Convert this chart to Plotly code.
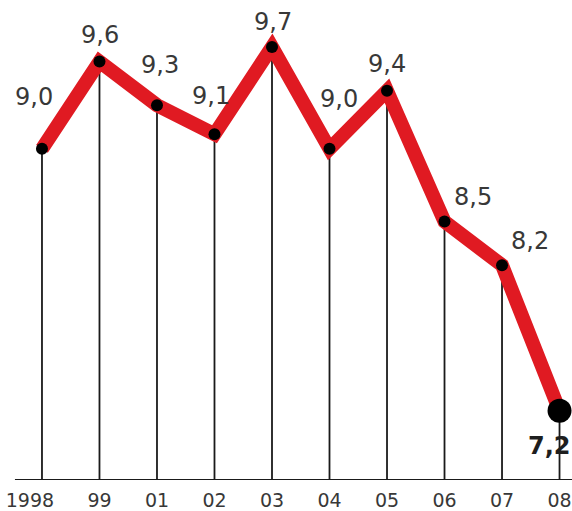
import plotly.graph_objects as go

categories = ["1998", "99", "01", "02", "03", "04", "05", "06", "07", "08"]
values = [9.0, 9.6, 9.3, 9.1, 9.7, 9.0, 9.4, 8.5, 8.2, 7.2]

# label offsets in pixels (style only)
label_dx = [-8, 1, 3, -3, 1, 9, 0, 28, 28, -10]
label_dy = [52, 27, 40, 38, 25, 50, 27, 25, 24, -35]

BASE = 6.724
xs = list(range(len(categories)))
# first tick label is pulled inward in the original
tick_pad = {0: "\u2007\u2007"}
ticktext = [c + tick_pad.get(i, "") for i, c in enumerate(categories)]

fig = go.Figure()

# vertical drop lines to baseline
fig.add_trace(go.Scatter(
    x=xs, y=values, mode="markers",
    marker=dict(size=1, color="rgba(0,0,0,0)"),
    error_y=dict(type="data", symmetric=False, array=[0] * len(values),
                 arrayminus=[v - BASE for v in values],
                 color="#1a1a1a", thickness=1.8, width=0),
    hoverinfo="skip", showlegend=False))

# thick red line
fig.add_trace(go.Scatter(
    x=xs, y=values, mode="lines",
    line=dict(color="#e01a22", width=14),
    showlegend=False))

# markers
sizes = [12] * (len(values) - 1) + [24]
fig.add_trace(go.Scatter(
    x=xs, y=values, mode="markers", cliponaxis=False,
    marker=dict(color="#000000", size=sizes, opacity=1,
                line=dict(width=0)),
    showlegend=False))

# baseline
fig.add_shape(type="line", x0=-0.47, x1=9.3, y0=BASE, y1=BASE,
              line=dict(color="#1a1a1a", width=2))

for i, (x, v) in enumerate(zip(xs, values)):
    last = i == len(values) - 1
    txt = f"{v:.1f}".replace(".", ",")
    fig.add_annotation(
        x=x, y=v, text=f"<b>{txt}</b>" if last else txt,
        showarrow=False, xshift=label_dx[i], yshift=label_dy[i],
        font=dict(family="DejaVu Sans", size=24,
                  color="#1e1e1e" if last else "#383838"),
        xanchor="center", yanchor="middle")

fig.update_layout(
    width=572, height=511,
    margin=dict(l=0, r=0, t=0, b=31, autoexpand=False),
    paper_bgcolor="white", plot_bgcolor="white",
    xaxis=dict(range=[-0.730, 9.217], tickvals=xs, ticktext=ticktext,
               showgrid=False, zeroline=False, showline=False, ticks="",
               ticklabelstandoff=7, ticklabeloverflow="allow",
               automargin=False,
               tickfont=dict(family="DejaVu Sans", size=19, color="#383838"),
               fixedrange=True),
    yaxis=dict(range=[BASE, 10.023], showgrid=False, zeroline=False,
               showticklabels=False, showline=False, fixedrange=True),
)

fig.write_html("out.html", config={"displayModeBar": False},
               post_script="document.body.style.margin='0';")
